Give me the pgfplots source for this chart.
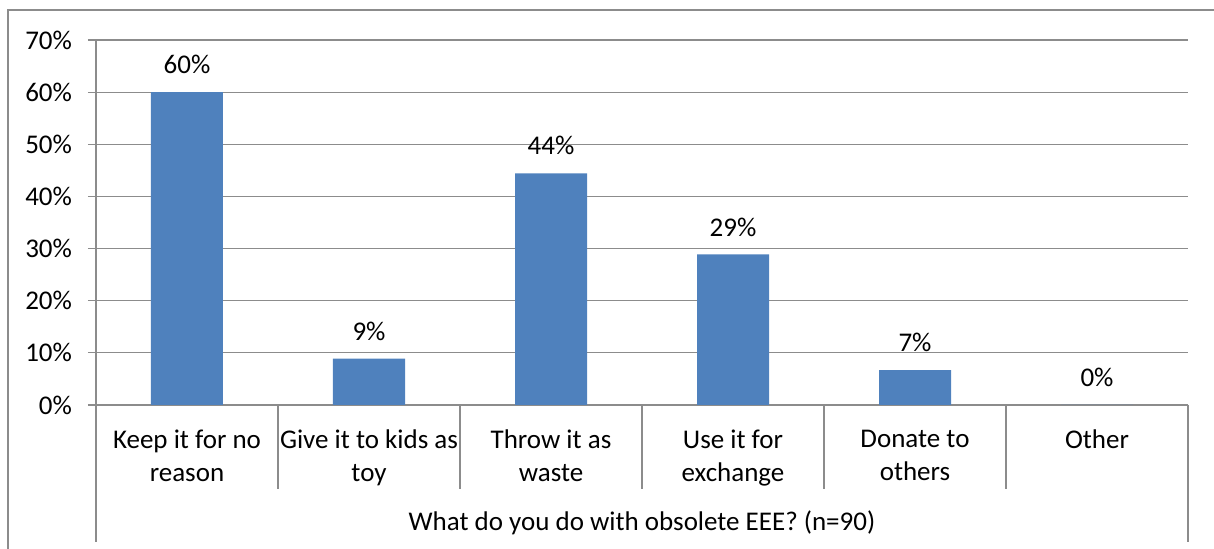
\documentclass[border=0pt]{standalone}
\usepackage{fontspec}
\setmainfont{Carlito}
\usepackage{pgfplots}
\pgfplotsset{compat=1.18}
\definecolor{gridc}{RGB}{140,140,140}
\definecolor{barc}{RGB}{79,129,189}
\newcommand{\lbl}{\fontsize{13.5}{16.5}\selectfont}
\begin{document}
\begin{tikzpicture}
\useasboundingbox (0pt,0pt) rectangle (607pt,274.5pt);
\draw[gridc, line width=1.1pt] (4pt,0pt) -- (4pt,269.5pt) -- (607pt,269.5pt);
\begin{axis}[
  at={(48pt,72pt)}, anchor=south west,
  scale only axis, width=546pt, height=182.5pt,
  xmin=-0.5, xmax=5.5, ymin=0, ymax=70,
  ytick={0,10,...,70},
  yticklabels={0\%,10\%,20\%,30\%,40\%,50\%,60\%,70\%},
  ymajorgrids, grid style={gridc, line width=0.6pt},
  axis lines=left, axis line style={-, gridc, line width=0.6pt},
  ytick style={gridc, line width=0.6pt}, tick align=outside, major tick length=4pt,
  xtick={0,...,5}, xtick style={draw=none},
  xticklabels={Keep it for no\\reason, Give it to kids as\\toy, Throw it as\\waste, Use it for\\exchange, Donate to\\others, Other},
  xticklabel style={align=center, font=\lbl, anchor=north, yshift=-5pt},
  yticklabel style={font=\lbl, xshift=-4.5pt},
  ybar, bar width=36pt,
  nodes near coords={\pgfmathprintnumber[fixed,precision=0,assume math mode=true]{\pgfplotspointmeta}\%},
  nodes near coords style={font=\lbl, anchor=south, yshift=5.5pt},
  clip=false,
]
\addplot[fill=barc, draw=none] coordinates {(0,60) (1,8.89) (2,44.44) (3,28.89) (4,6.67) (5,0)};
\end{axis}
\foreach \x in {139,230,321,412,503} { \draw[gridc, line width=0.6pt] (\x pt,72pt) -- (\x pt,30pt); }
\foreach \x in {48,594} { \draw[gridc, line width=0.6pt] (\x pt,72pt) -- (\x pt,3.5pt); }
\node[font=\lbl] at (321pt,13pt) {What do you do with obsolete EEE? (n=90)};
\end{tikzpicture}
\end{document}
